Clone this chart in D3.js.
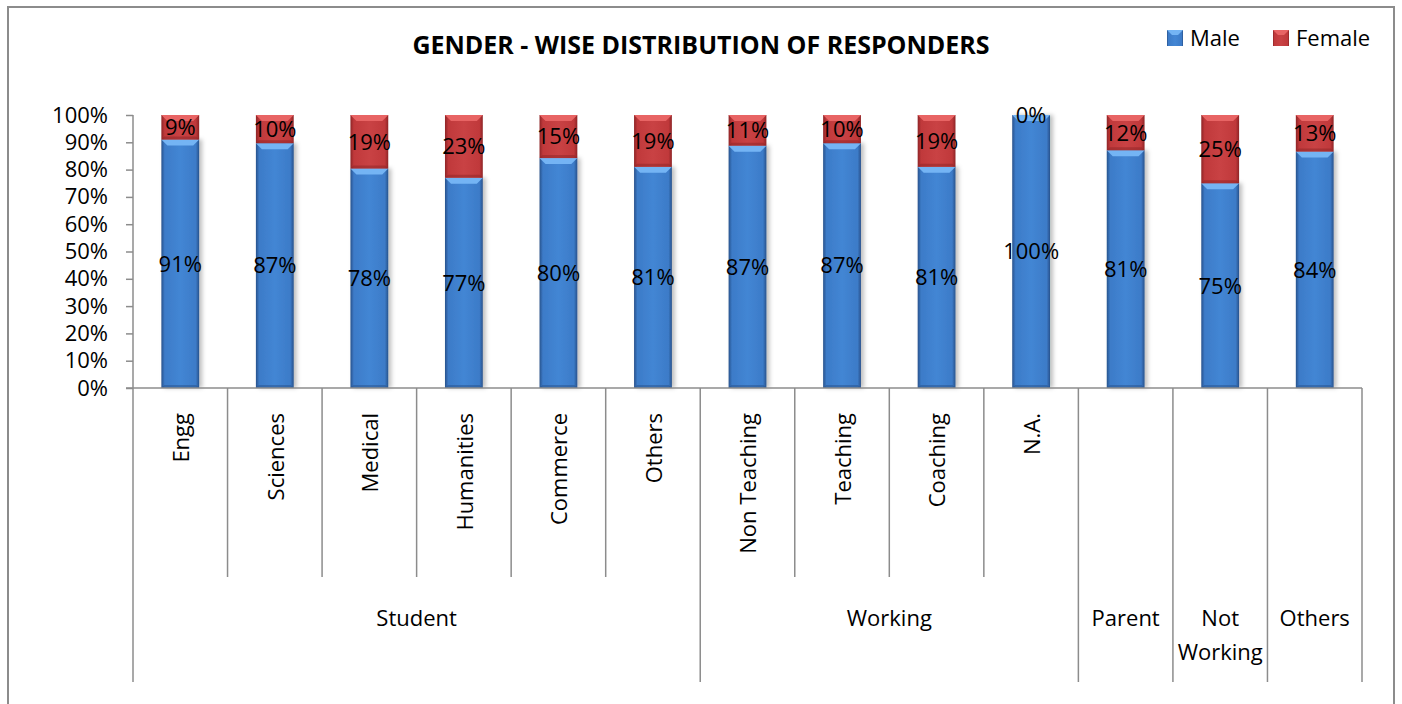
<!DOCTYPE html>
<html>
<head>
  <meta charset="utf-8">
  <title>Gender-wise distribution of responders</title>
  <script src="https://d3js.org/d3.v7.min.js"></script>
  <style>
    body { margin: 0; background: #fff; }
    text { font-family: "Open Sans", "Liberation Sans", sans-serif; fill: #000; }
  </style>
</head>
<body>
  <div id="chart"></div>
  <script>
    const subCategories = ["Engg", "Sciences", "Medical", "Humanities", "Commerce", "Others",
                           "Non Teaching", "Teaching", "Coaching", "N.A.", "", "", ""];
    const groups = ["Student", "Student", "Student", "Student", "Student", "Student",
                    "Working", "Working", "Working", "Working", "Parent", "Not Working", "Others"];
    const male   = [91, 87, 78, 77, 80, 81, 87, 87, 81, 100, 81, 75, 84];
    const female = [9, 10, 19, 23, 15, 19, 11, 10, 19, 0, 12, 25, 13];
    const seriesNames = ["Male", "Female"];
    const yTicks = [0, 0.1, 0.2, 0.3, 0.4, 0.5, 0.6, 0.7, 0.8, 0.9, 1];

    const W = 1402, H = 704;
    const plot = { left: 133, right: 1362, top: 115, bottom: 388 };
    const level1 = 577, level2 = 682;

    const svg = d3.select("#chart").append("svg")
      .attr("width", W)
      .attr("height", H);

    // chart frame
    svg.append("rect")
      .attr("x", 8).attr("y", 7)
      .attr("width", 1386).attr("height", 720)
      .attr("fill", "#fff")
      .attr("stroke", "#8c8c8c")
      .attr("stroke-width", 2);

    const defs = svg.append("defs");
    const colors = {
      Male:   { edge: "#28528c", main: "#3c7bc8", mid: "#4386d4", bevel: "#74b4f4" },
      Female: { edge: "#8e2426", main: "#c0393b", mid: "#c94244", bevel: "#e86464" }
    };
    seriesNames.forEach(k => {
      const g = defs.append("linearGradient").attr("id", "grad-" + k)
        .attr("x1", "0%").attr("x2", "100%").attr("y1", "0%").attr("y2", "0%");
      g.append("stop").attr("offset", "0%").attr("stop-color", colors[k].edge);
      g.append("stop").attr("offset", "9%").attr("stop-color", colors[k].main);
      g.append("stop").attr("offset", "50%").attr("stop-color", colors[k].mid);
      g.append("stop").attr("offset", "91%").attr("stop-color", colors[k].main);
      g.append("stop").attr("offset", "100%").attr("stop-color", colors[k].edge);
    });
    const shadow = defs.append("filter").attr("id", "shadow")
      .attr("x", "-20%").attr("y", "-5%").attr("width", "150%").attr("height", "110%");
    shadow.append("feDropShadow").attr("dx", 3).attr("dy", 0).attr("stdDeviation", 2)
      .attr("flood-color", "#000").attr("flood-opacity", 0.25);

    const idx = d3.range(subCategories.length);
    const rows = idx.map(i => ({ i, Male: male[i], Female: female[i] }));

    const x = d3.scaleBand()
      .domain(idx)
      .range([plot.left, plot.right])
      .paddingInner(0.6)
      .paddingOuter(0.3);
    const xCell = d3.scaleBand()
      .domain(idx)
      .range([plot.left, plot.right]);
    const y = d3.scaleLinear()
      .domain([0, 1])
      .range([plot.bottom, plot.top]);

    const stack = d3.stack().keys(seriesNames).offset(d3.stackOffsetExpand);
    const series = stack(rows);

    // bars
    const layer = svg.selectAll(".layer")
      .data(series)
      .enter().append("g")
      .attr("class", "layer");

    layer.selectAll("g.seg")
      .data(s => s.map(d => ({ key: s.key, d })))
      .enter().append("g")
      .attr("class", "seg")
      .each(function (p) {
        const g = d3.select(this);
        const x0 = x(p.d.data.i), bw = x.bandwidth();
        const yTop = y(p.d[1]), yBot = y(p.d[0]);
        const h = yBot - yTop;
        if (h <= 0.01) return;
        g.append("rect")
          .attr("x", x0).attr("y", yTop)
          .attr("width", bw).attr("height", h)
          .attr("fill", `url(#grad-${p.key})`)
          .attr("filter", p.key === "Male" ? "url(#shadow)" : null);
        const bh = Math.min(6, h / 2);
        g.append("path")
          .attr("d", `M${x0},${yTop}L${x0 + bw},${yTop}L${x0 + bw - bh},${yTop + bh}L${x0 + bh},${yTop + bh}Z`)
          .attr("fill", colors[p.key].bevel);
        g.append("path")
          .attr("d", `M${x0},${yBot}L${x0 + bw},${yBot}L${x0 + bw - 3},${yBot - 3}L${x0 + 3},${yBot - 3}Z`)
          .attr("fill", colors[p.key].edge)
          .attr("opacity", 0.5);
      });

    // data labels
    layer.selectAll("text")
      .data(s => s.map(d => ({ key: s.key, d })))
      .enter().append("text")
      .attr("x", p => x(p.d.data.i) + x.bandwidth() / 2)
      .attr("y", p => {
        const h = y(p.d[0]) - y(p.d[1]);
        return h < 1 ? y(p.d[1]) : (y(p.d[0]) + y(p.d[1])) / 2;
      })
      .attr("dy", "0.36em")
      .attr("text-anchor", "middle")
      .style("font-size", "22px")
      .text(p => p.d.data[p.key] + "%");

    // y axis
    const yAxis = svg.append("g")
      .attr("transform", `translate(${plot.left},0)`)
      .call(d3.axisLeft(y).tickValues(yTicks).tickFormat(d3.format(".0%")).tickSize(7).tickPadding(18));
    yAxis.select(".domain").remove();
    yAxis.selectAll("line").attr("stroke", "#8c8c8c").attr("stroke-width", 1.5);
    yAxis.selectAll("text")
      .style("font-size", "22px")
      .style("font-family", "'Open Sans', sans-serif")
      .attr("fill", "#000");

    const lines = svg.append("g").attr("stroke", "#8c8c8c").attr("stroke-width", 1.5);
    lines.append("line")
      .attr("x1", plot.left).attr("x2", plot.left)
      .attr("y1", plot.top).attr("y2", level2);
    lines.append("line")
      .attr("x1", plot.left - 7).attr("x2", plot.right)
      .attr("y1", plot.bottom).attr("y2", plot.bottom);

    // category separators: full height at group boundaries, short otherwise
    idx.forEach(i => {
      const xr = xCell(i) + xCell.bandwidth();
      const groupEnd = i === idx.length - 1 || groups[i] !== groups[i + 1];
      lines.append("line")
        .attr("x1", xr).attr("x2", xr)
        .attr("y1", plot.bottom).attr("y2", groupEnd ? level2 : level1);
    });

    // sub-category labels (rotated)
    svg.append("g").selectAll("text")
      .data(idx.filter(i => subCategories[i]))
      .enter().append("text")
      .attr("transform", i => `translate(${xCell(i) + xCell.bandwidth() / 2 + 1},413) rotate(-90)`)
      .attr("dy", "0.36em")
      .attr("text-anchor", "end")
      .style("font-size", "22px")
      .text(i => subCategories[i]);

    // group labels
    const groupSpans = [];
    idx.forEach(i => {
      const last = groupSpans[groupSpans.length - 1];
      if (last && last.name === groups[i]) last.end = i;
      else groupSpans.push({ name: groups[i], start: i, end: i });
    });
    svg.append("g").selectAll("text")
      .data(groupSpans)
      .enter().append("text")
      .attr("x", g => (xCell(g.start) + xCell(g.end) + xCell.bandwidth()) / 2)
      .attr("y", 626)
      .attr("text-anchor", "middle")
      .style("font-size", "22px")
      .each(function (g) {
        const words = g.start === g.end ? g.name.split(" ") : [g.name];
        const t = d3.select(this);
        words.forEach((w, k) => {
          t.append("tspan")
            .attr("x", (xCell(g.start) + xCell(g.end) + xCell.bandwidth()) / 2)
            .attr("dy", k === 0 ? 0 : 34)
            .text(w);
        });
      });

    // title
    svg.append("text")
      .attr("x", 701)
      .attr("y", 54)
      .attr("text-anchor", "middle")
      .style("font-size", "25px")
      .style("font-weight", "bold")
      .text("GENDER - WISE DISTRIBUTION OF RESPONDERS");

    // legend
    const legendX = [1167, 1273];
    const legend = svg.append("g").selectAll("g")
      .data(seriesNames)
      .enter().append("g")
      .attr("transform", (d, i) => `translate(${legendX[i]},30)`);
    legend.append("rect")
      .attr("width", 16).attr("height", 16)
      .attr("fill", d => `url(#grad-${d})`);
    legend.append("path")
      .attr("d", "M0,0L16,0L11,5L5,5Z")
      .attr("fill", d => colors[d].bevel);
    legend.append("text")
      .attr("x", 23)
      .attr("y", 16)
      .style("font-size", "22px")
      .text(d => d);
  </script>
</body>
</html>
